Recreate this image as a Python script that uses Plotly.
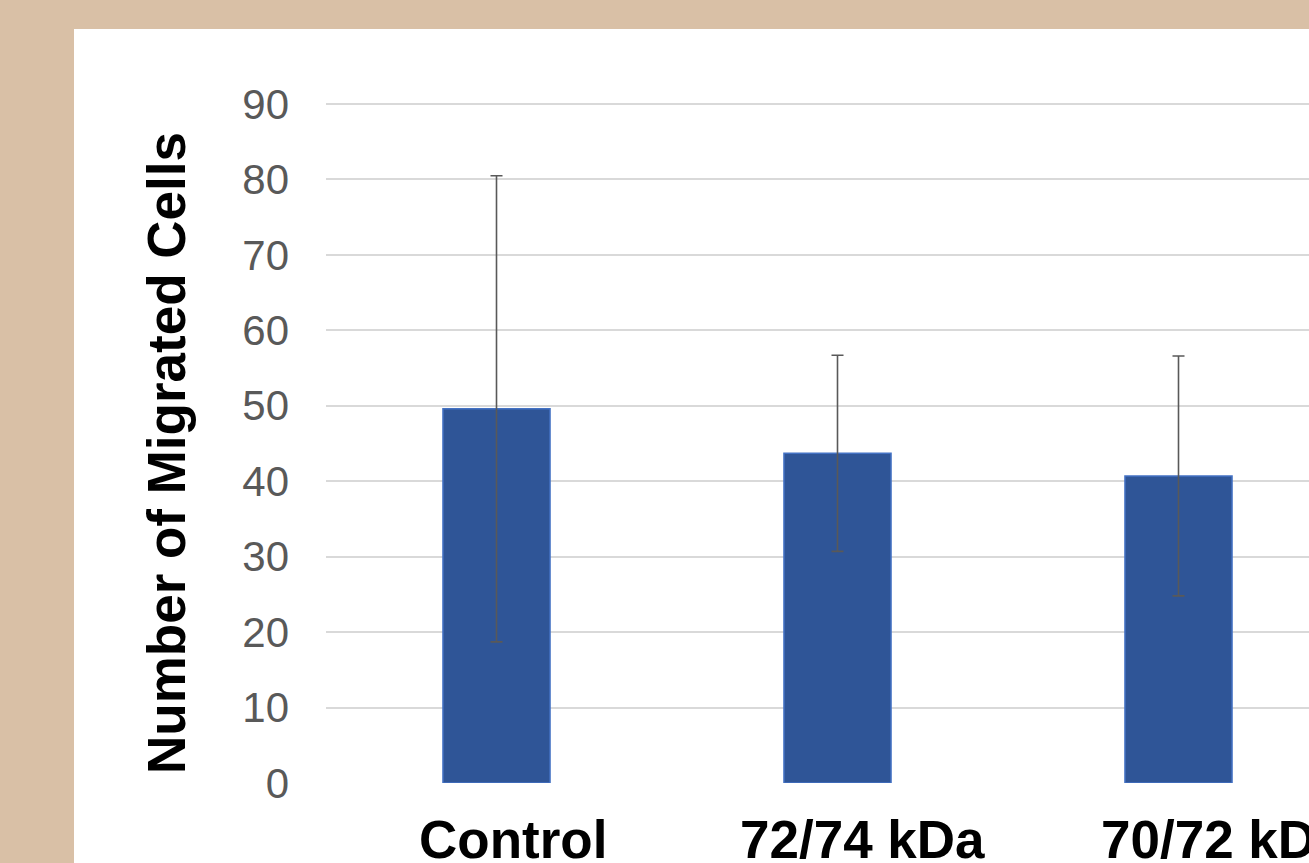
import plotly.graph_objects as go

categories = ["Control", "72/74 kDa", "70/72 kDa"]
values = [49.6, 43.7, 40.7]
errors = [30.9, 13.0, 15.9]
y_ticks = [0, 10, 20, 30, 40, 50, 60, 70, 80, 90]

W, H = 1309, 863
L, T, B = 326, 101, 80
plot_w = W - L
plot_h = H - T - B
label_shift = [16, 25, 45]

fig = go.Figure()
fig.add_trace(go.Bar(
    x=list(range(len(categories))),
    y=values,
    marker=dict(color="#2F5597", line=dict(color="#4472C4", width=1.5)),
    error_y=dict(type="data", array=errors, visible=True,
                 color="#595959", thickness=1.6, width=6),
    width=0.314,
))

fig.add_shape(type="rect", xref="paper", yref="paper",
              x0=(74 - L) / plot_w, x1=1.2,
              y0=-0.5, y1=(H - 29 - B) / plot_h,
              fillcolor="white", line=dict(width=0), layer="below")

fig.add_annotation(text="<b>Number of Migrated Cells</b>", textangle=-90,
                   xref="paper", yref="paper",
                   x=(166 - L) / plot_w, y=(H - B - 453) / plot_h,
                   xanchor="center", yanchor="middle", showarrow=False,
                   font=dict(family="Liberation Sans, Arial", size=53, color="black"))

for i, c in enumerate(categories):
    fig.add_annotation(text="<b>%s</b>" % c, x=i, xref="x", y=0, yref="paper",
                       xanchor="center", yanchor="top", showarrow=False,
                       xshift=label_shift[i], yshift=-25,
                       font=dict(family="Liberation Sans, Arial", size=53, color="black"))

fig.update_layout(
    width=W, height=H,
    margin=dict(l=L, r=0, t=T, b=B, pad=0),
    paper_bgcolor="#D9C0A6",
    plot_bgcolor="rgba(0,0,0,0)",
    showlegend=False,
    font=dict(family="Liberation Sans, Arial"),
)
fig.update_xaxes(
    range=[-0.5, -0.5 + plot_w / 341.0],
    showticklabels=False, automargin=False,
    showgrid=False, zeroline=False, showline=False, ticks="",
)
fig.update_yaxes(
    range=[0, 90.4], tickvals=y_ticks, automargin=False,
    tickfont=dict(size=42, color="#595959"),
    showgrid=True, gridcolor="#D9D9D9", gridwidth=1.5,
    zeroline=False, showline=False, ticks="",
    ticklabelstandoff=36,
)

fig.write_html("out.html", config={"displayModeBar": False},
               post_script="document.body.style.margin='0';document.body.style.overflow='hidden';")
